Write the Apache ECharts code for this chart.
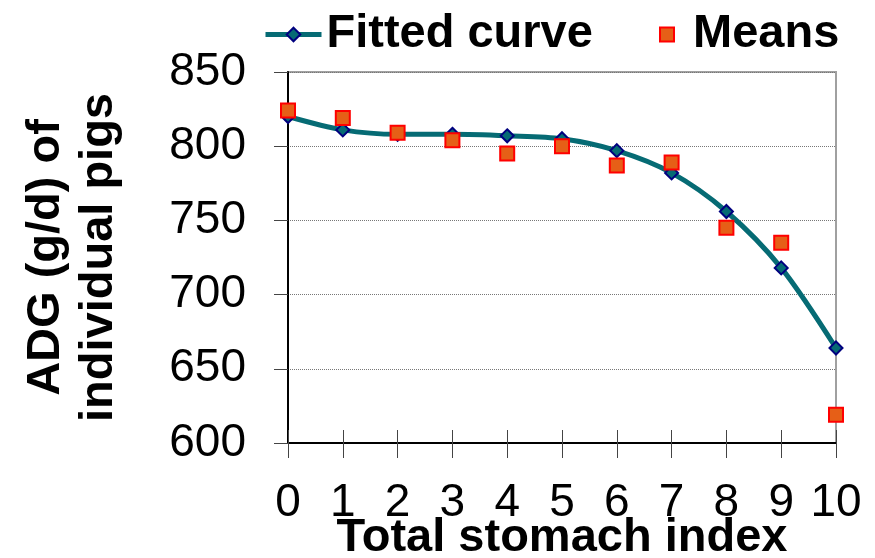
<!DOCTYPE html>
<html>
<head>
<meta charset="utf-8">
<script src="https://cdn.jsdelivr.net/npm/echarts@6/dist/echarts.min.js"></script>
<style>
  html, body { margin: 0; padding: 0; background: #fff; }
  #chart { width: 875px; height: 558px; }
</style>
</head>
<body>
<div id="chart"></div>
<script>
// stomach index 0..10
const stomachIndex = [0, 1, 2, 3, 4, 5, 6, 7, 8, 9, 10];
// ADG values
const fittedCurve = [820, 811, 808, 808, 807, 805, 797, 782, 756, 718, 664];
const means = [824, 819, 809, 804, 795, 800, 787, 789, 745, 735, 619];

const chart = echarts.init(document.getElementById('chart'));

const font = 'Liberation Sans, Arial, sans-serif';

chart.setOption({
  animation: false,
  backgroundColor: '#fff',
  grid: {
    left: 288, right: 39, top: 72, bottom: 115,
    outerBoundsMode: 'none',
    show: true,
    borderColor: '#a0a0a0',
    borderWidth: 2
  },
  legend: [
    {
      data: ['Fitted curve'],
      left: 258, top: 6,
      itemWidth: 56, itemHeight: 17,
      lineStyle: { width: 5 },
      textStyle: { fontFamily: font, fontWeight: 'bold', fontSize: 47, color: '#000' }
    },
    {
      data: ['Means'],
      left: 654, top: 6,
      itemWidth: 14, itemHeight: 14,
      textStyle: { fontFamily: font, fontWeight: 'bold', fontSize: 47, color: '#000', padding: [0, 0, 0, 14] }
    }
  ],
  xAxis: [
    {
      type: 'value',
      min: 0, max: 10, interval: 1,
      position: 'bottom',
      name: 'Total stomach index',
      nameLocation: 'middle',
      nameGap: 72,
      nameMoveOverlap: false,
      nameTextStyle: { fontFamily: font, fontWeight: 'bold', fontSize: 47, color: '#000' },
      axisLine: { lineStyle: { color: '#000', width: 2 } },
      axisTick: { show: true, inside: false, length: 15, lineStyle: { color: '#444' } },
      axisLabel: { fontFamily: font, fontSize: 46, color: '#000', margin: 37 },
      splitLine: { show: false }
    },
    {
      type: 'value',
      min: 0, max: 10, interval: 1,
      position: 'bottom',
      axisLine: { show: false },
      axisTick: { show: true, inside: true, length: 13, lineStyle: { color: '#444' } },
      axisLabel: { show: false },
      splitLine: { show: false }
    }
  ],
  yAxis: {
    type: 'value',
    min: 600, max: 850, interval: 50,
    name: 'ADG (g/d) of\nindividual pigs',
    nameLocation: 'middle',
    nameRotate: 90,
    nameGap: 162,
    nameMoveOverlap: false,
    nameTextStyle: { fontFamily: font, fontWeight: 'bold', fontSize: 47, color: '#000', lineHeight: 53 },
    axisLine: { show: true, lineStyle: { color: '#000', width: 2 } },
    axisTick: { show: true, inside: false, length: 14, lineStyle: { color: '#444' } },
    axisLabel: { fontFamily: font, fontSize: 46, color: '#000', margin: 42 },
    splitLine: { show: true, lineStyle: { color: '#777', type: 'dotted', width: 1 } }
  },
  series: [
    {
      name: 'Fitted curve',
      type: 'line',
      smooth: 0.3,
      data: stomachIndex.map((x, i) => [x, fittedCurve[i]]),
      symbol: 'diamond',
      symbolSize: 13,
      lineStyle: { color: '#066b74', width: 5 },
      itemStyle: { color: '#066b74', borderColor: '#00007f', borderWidth: 2 },
      z: 2
    },
    {
      name: 'Means',
      type: 'scatter',
      data: stomachIndex.map((x, i) => [x, means[i]]),
      symbol: 'rect',
      symbolSize: 14,
      itemStyle: { color: '#e65f17', borderColor: '#ff0000', borderWidth: 2, opacity: 1 },
      z: 3
    }
  ]
});
</script>
</body>
</html>
